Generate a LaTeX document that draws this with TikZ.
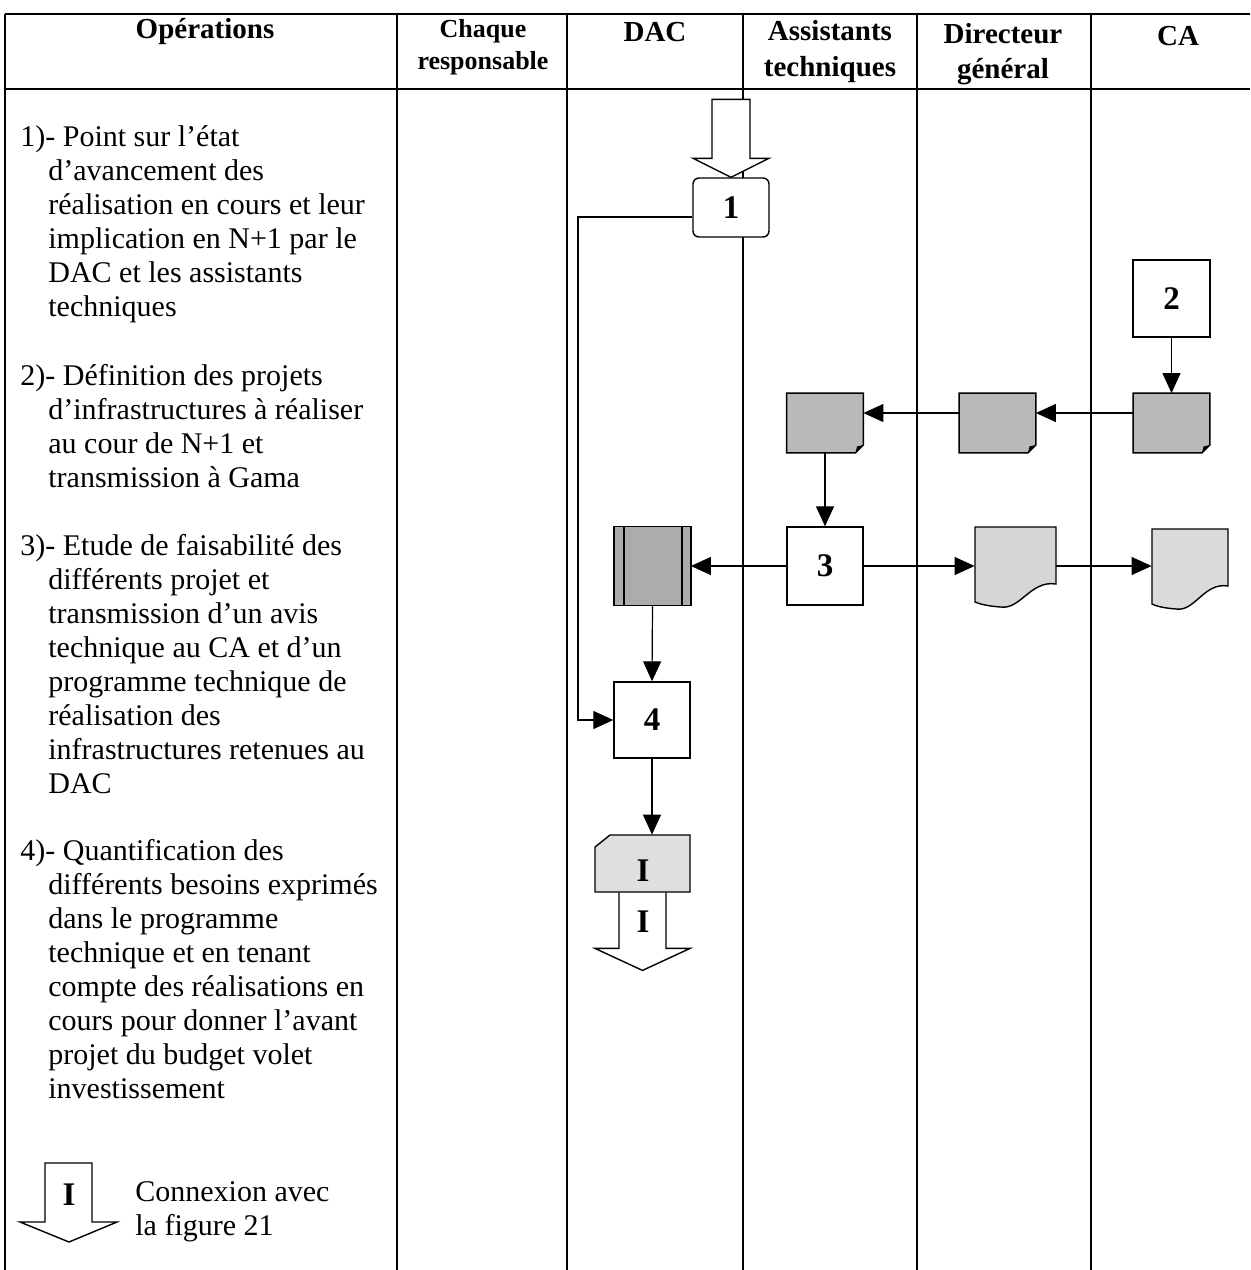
\documentclass[tikz,border=0pt]{standalone}
\usepackage{fontspec}
\setmainfont{Liberation Serif}
\usetikzlibrary{arrows.meta,calc}
\begin{document}
\begin{tikzpicture}[x=0.5pt,y=-0.5pt,
  lane/.style={line width=0.6pt},
  arr/.style={line width=0.6pt,-{Triangle[length=10pt,width=9pt]}},
  hdr/.style={font=\bfseries\fontsize{14.5pt}{17.5pt}\selectfont,align=center,inner sep=0pt},
  body/.style={font=\fontsize{15pt}{17pt}\selectfont,align=left,inner sep=0pt,anchor=north west},
  procbox/.style={draw,line width=0.7pt,fill=white,inner sep=0pt,font=\bfseries\fontsize{16.5pt}{18pt}\selectfont},
  docbox/.style={minimum width=38pt,minimum height=29.5pt,inner sep=0pt},
  shp/.style={line width=0.7pt},
  lbl/.style={font=\bfseries\fontsize{16.5pt}{18pt}\selectfont,inner sep=0pt}
]
\useasboundingbox (0,0) rectangle (1250,1270);
% table
\draw[lane] (5,14) -- (1250,14);
\draw[lane] (5,89) -- (1250,89);
\foreach \x in {5,397,567,743,917,1091} \draw[lane] (\x,14) -- (\x,1270);
% header
\node[hdr] (hop) at (205,32) {Opérations};
\node[hdr,font=\bfseries\fontsize{13pt}{16pt}\selectfont] (hch) at (483,47) {Chaque\\responsable};
\node[hdr] (hdac) at (655,32) {DAC};
\node[hdr,font=\bfseries\fontsize{14.5pt}{18pt}\selectfont] (has) at (830,52) {Assistants\\techniques};
\node[hdr,font=\bfseries\fontsize{14.5pt}{17.5pt}\selectfont] (hdg) at (1003,54) {Directeur\\général};
\node[hdr] (hca) at (1178,36) {CA};
% left column text
\node[body] (t1) at (20,125) {1)- Point sur l’état\\
\hspace*{14pt}d’avancement des\\
\hspace*{14pt}réalisation en cours et leur\\
\hspace*{14pt}implication en N+1 par le\\
\hspace*{14pt}DAC et les assistants\\
\hspace*{14pt}techniques};
\node[body] (t2) at (20,364) {2)- Définition des projets\\
\hspace*{14pt}d’infrastructures à réaliser\\
\hspace*{14pt}au cour de N+1 et\\
\hspace*{14pt}transmission à Gama};
\node[body] (t3) at (20,534) {3)- Etude de faisabilité des\\
\hspace*{14pt}différents projet et\\
\hspace*{14pt}transmission d’un avis\\
\hspace*{14pt}technique au CA et d’un\\
\hspace*{14pt}programme technique de\\
\hspace*{14pt}réalisation des\\
\hspace*{14pt}infrastructures retenues au\\
\hspace*{14pt}DAC};
\node[body] (t4) at (20,839) {4)- Quantification des\\
\hspace*{14pt}différents besoins exprimés\\
\hspace*{14pt}dans le programme\\
\hspace*{14pt}technique et en tenant\\
\hspace*{14pt}compte des réalisations en\\
\hspace*{14pt}cours pour donner l’avant\\
\hspace*{14pt}projet du budget volet\\
\hspace*{14pt}investissement};
% legend
\node[lbl] (li) at (69,1195) {I};
\begin{scope}[shift={(69,1242)}]
\draw[shp] (-24,-79) -- (23,-79) -- (23,-20) -- (48,-20) -- (0,0) -- (-49,-20) -- (-24,-20) -- cycle;
\end{scope}
\node[body,anchor=west] (lt) at (135,1212) {Connexion avec\\la figure 21};
% node 1 with incoming hollow arrow
\node[procbox,rounded corners=3pt,minimum width=38pt,minimum height=29.5pt] (n1) at (731,207.5) {1};
\begin{scope}[shift={(n1.north)}]
\filldraw[shp,fill=white] (-19,-78) -- (19,-78) -- (19,-19) -- (38,-19) -- (0,0) -- (-38,-19) -- (-19,-19) -- cycle;
\end{scope}
% node 2
\node[procbox,minimum width=38.5pt,minimum height=38.5pt] (n2) at (1171.5,298.5) {2};
% documents with folded corner
\newcommand\foldeddoc[2]{%
  \filldraw[shp,fill=#2] (#1.north west) -- (#1.north east) -- ([yshift=4pt]#1.south east)
    -- ([xshift=-4pt]#1.south east) -- (#1.south west) -- cycle;
  \fill ([yshift=4pt]#1.south east) -- ([xshift=-4pt]#1.south east) -- ([xshift=-3.2pt,yshift=3.2pt]#1.south east) -- cycle;}
\node[docbox] (dca) at (1171.5,423) {};
\node[docbox] (ddg) at (997.5,423) {};
\node[docbox] (dat) at (825,423) {};
\foldeddoc{dca}{gray!55}
\foldeddoc{ddg}{gray!55}
\foldeddoc{dat}{gray!55}
% node 3
\node[procbox,minimum width=38pt,minimum height=39pt] (n3) at (825,566) {3};
% striped (dark) document
\node[docbox,minimum width=38pt,minimum height=39pt] (dst) at (652.5,566) {};
\filldraw[shp,fill=gray!65] (dst.north west) rectangle (dst.south east);
\draw[shp] ([xshift=5pt]dst.north west) -- ([xshift=5pt]dst.south west);
\draw[shp] ([xshift=-4.5pt]dst.north east) -- ([xshift=-4.5pt]dst.south east);
% wavy documents
\node[docbox,minimum width=40.5pt,minimum height=39pt] (wd1) at (1015.5,566) {};
\begin{scope}[shift={(wd1.center)}]
\filldraw[shp,fill=gray!32] (-40.5,-39) -- (40.5,-39) -- (40.5,18) .. controls (15,14) and (5,44) .. (-15,41) .. controls (-28,40) and (-36,38) .. (-40.5,36) -- cycle;
\end{scope}
\node[docbox,minimum width=38pt,minimum height=39pt] (wd2) at (1190,568) {};
\begin{scope}[shift={(wd2.center)}]
\filldraw[shp,fill=gray!28] (-38,-39) -- (38,-39) -- (38,18) .. controls (14,14) and (5,44) .. (-14,41) .. controls (-27,40) and (-34,38) .. (-38,36) -- cycle;
\end{scope}
% node 4
\node[procbox,minimum width=38pt,minimum height=38pt] (n4) at (652,720) {4};
% off-page connector I
\node[docbox,minimum width=47.5pt,minimum height=28.5pt] (ci) at (642.5,863.5) {};
\begin{scope}[shift={(ci.center)}]
\filldraw[shp,fill=gray!25] (-47.5,-16.5) -- (-32.5,-28.5) -- (47.5,-28.5) -- (47.5,28.5) -- (-47.5,28.5) -- cycle;
\end{scope}
\node[lbl] (cil) at (643,871) {I};
\begin{scope}[shift={(ci.south)}]
\draw[shp] (-23.5,0) -- (-23.5,56) -- (-47.5,56) -- (0,78) -- (47.5,56) -- (23.5,56) -- (23.5,0);
\end{scope}
\node[lbl] (ia) at (643,922) {I};
% connectors
\coordinate (c1) at (578,217);
\draw[arr] ([yshift=-4.75pt]n1.west) -- (c1) |- (n4.west);
\draw[arr] (n2.south) -- (dca.north);
\draw[arr] ([yshift=5pt]dca.west) -- ([yshift=5pt]ddg.east);
\draw[arr] ([yshift=5pt]ddg.west) -- ([yshift=5pt]dat.east);
\draw[arr] (dat.south) -- (n3.north);
\draw[arr] (n3.west) -- (dst.east);
\draw[arr] (n3.east) -- (wd1.west);
\draw[arr] (wd1.east) -- (wd1.east -| wd2.west);
\draw[arr] (dst.south) -- (n4.north);
\draw[arr] (n4.south) -- (n4.south |- ci.north);
\end{tikzpicture}
\end{document}
